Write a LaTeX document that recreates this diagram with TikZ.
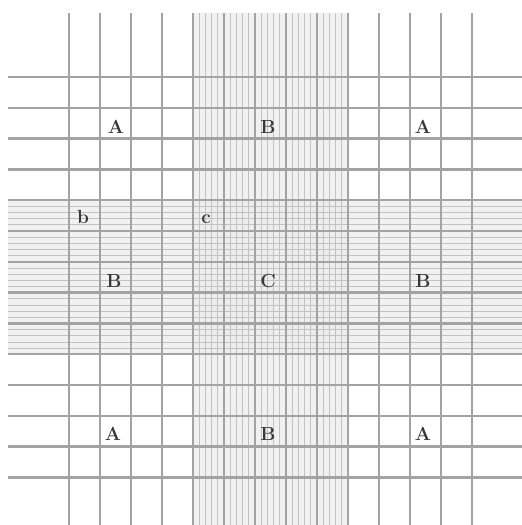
\documentclass[tikz,border=0pt]{standalone}
\usepackage{tikz}

\begin{document}
\begin{tikzpicture}[x=1pt, y=-1pt,
  mainline/.style={black!36, line width=2.4pt},
  fineline/.style={black!24, line width=0.7pt},
  bandfill/.style={black!8, opacity=0.7},
  letter/.style={font=\fontsize{19}{22}\selectfont\bfseries, text=black!78, inner sep=0pt}]
\useasboundingbox (0,0) rectangle (522,525);
% shaded bands
\fill[bandfill] (193,13) rectangle (348,525);
\fill[bandfill] (8,200.2) rectangle (522,354.2);
% fine rulings in the bands
\foreach \i in {0,...,24} {
  \draw[fineline] (193+6.2*\i,13) -- (193+6.2*\i,525);
  \draw[fineline] (8,200.2+6.16*\i) -- (522,200.2+6.16*\i);
}
% main rulings
\foreach \i in {0,...,13} {
  \draw[mainline] (69+31*\i,13) -- (69+31*\i,525);
  \draw[mainline] (8,77+30.8*\i) -- (522,77+30.8*\i);
}
% labels
\node[letter] (a1) at (116,127) {A};
\node[letter] (b1) at (268,127) {B};
\node[letter] (a2) at (423,127) {A};
\node[letter] (bs) at (83,217) {b};
\node[letter] (cs) at (206,219) {c};
\node[letter] (b2) at (114,281) {B};
\node[letter] (c1) at (268,281) {C};
\node[letter] (b3) at (423,281) {B};
\node[letter] (a3) at (113,434) {A};
\node[letter] (b4) at (268,434) {B};
\node[letter] (a4) at (423,434) {A};
\end{tikzpicture}
\end{document}
